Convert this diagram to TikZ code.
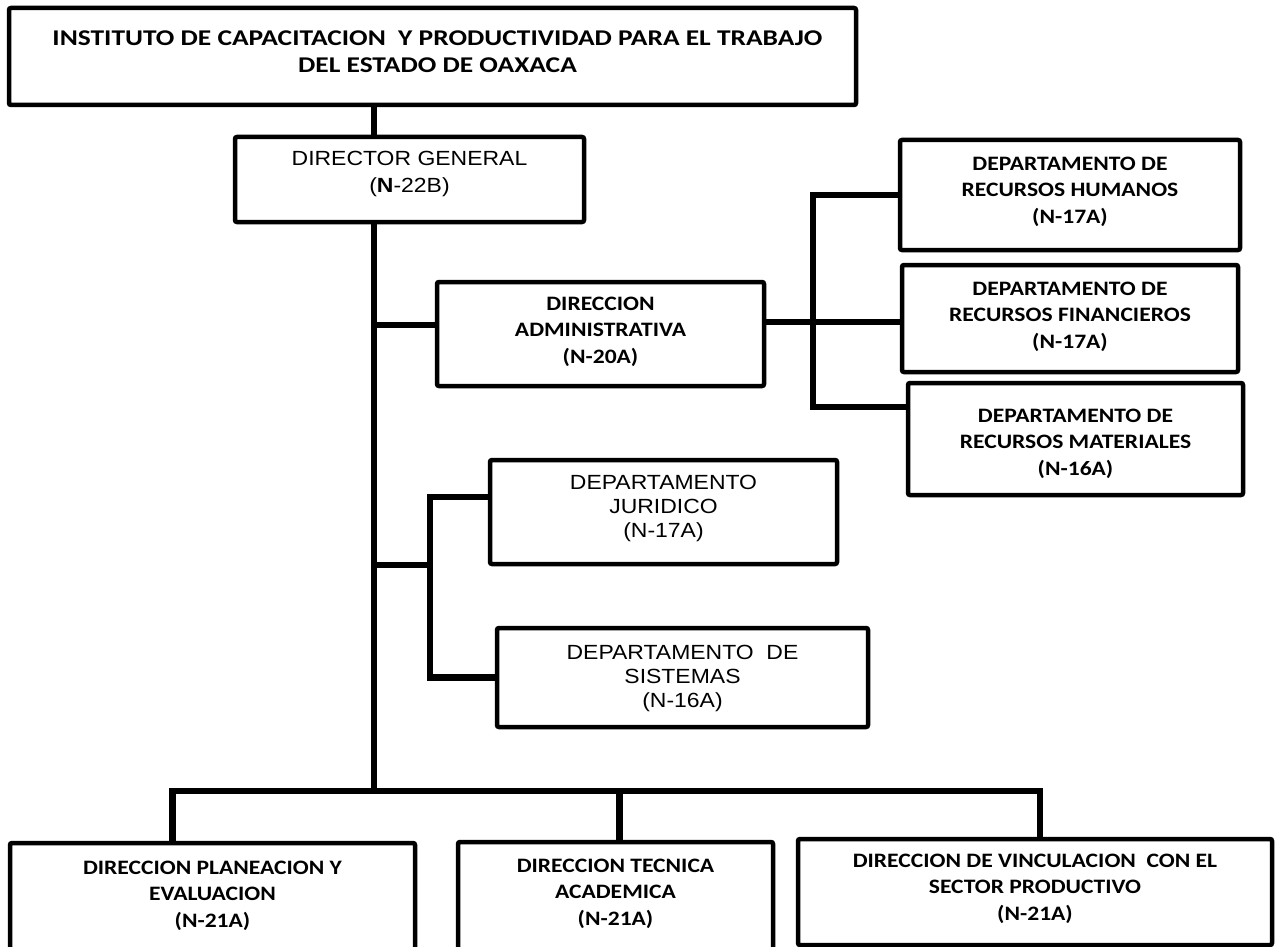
\documentclass[tikz,border=0pt]{standalone}
\usepackage{fontspec}
\usetikzlibrary{fit,calc}
\newfontfamily\calibri[FakeStretch=1.15]{Carlito}
\newfontfamily\calibrit[FakeStretch=1.22]{Carlito}
\newfontfamily\arial[FakeStretch=1.12]{Liberation Sans}
\tikzset{
    % Define style for boxes
    marco/.style={
           rectangle,
           rounded corners=2pt,
           draw=black, line width=4.5pt,
           inner sep=0pt, outer sep=0pt},
    % Define styles for the text inside the boxes
    negrita/.style={
           font=\calibri\bfseries\fontsize{20.5}{26.5}\selectfont,
           align=center, inner sep=0pt, anchor=north},
    titulo/.style={
           negrita,
           font=\calibrit\bfseries\fontsize{22.5}{27}\selectfont},
    normal/.style={
           font=\arial\fontsize{20.5}{24}\selectfont,
           align=center, inner sep=0pt, anchor=north},
    % Define line style
    linea/.style={
           line width=6.5pt}
}
% box: text style, name, corners, drop of the text, text
\newcommand*{\caja}[5][negrita]{\node[marco, fit={#3}] (#2) {};
  \node[#1] (#2-t) at ([yshift=-#4]#2.north) {#5};}

\begin{document}
\begin{tikzpicture}[x=1pt,y=-1pt]
\useasboundingbox (0,0) rectangle (1275,947);
\clip (0,0) rectangle (1275,947);

% Boxes, from top to bottom
\caja[titulo, xshift=5pt]{inst}{(9,8) (856,105)}{22.8pt}{INSTITUTO DE CAPACITACION \ Y PRODUCTIVIDAD PARA EL TRABAJO\\DEL ESTADO DE OAXACA}
\caja[normal, font=\arial\fontsize{20.5}{27}\selectfont]{dg}{(235,137) (584,222)}{13.7pt}{DIRECTOR GENERAL\\(\textbf{N}-22B)}
\caja{da}{(437,282) (764,386)}{14.4pt}{DIRECCION\\ADMINISTRATIVA\\(N-20A)}
\caja{rh}{(900,140) (1240,250)}{16.4pt}{DEPARTAMENTO DE\\RECURSOS HUMANOS\\(N-17A)}
\caja{rf}{(902,265) (1238,372)}{16.4pt}{DEPARTAMENTO DE\\RECURSOS FINANCIEROS\\(N-17A)}
\caja{rm}{(908,383) (1243,495)}{25.4pt}{DEPARTAMENTO DE\\RECURSOS MATERIALES\\(N-16A)}
\caja[normal]{jur}{(490,460) (837,564)}{14.7pt}{DEPARTAMENTO\\JURIDICO\\(N-17A)}
\caja[normal]{sis}{(497,628) (868,727)}{16.7pt}{DEPARTAMENTO \ DE\\SISTEMAS\\(N-16A)}
\caja{dpe}{(10,843) (415,965)}{17.4pt}{DIRECCION PLANEACION Y\\EVALUACION\\(N-21A)}
\caja{dta}{(458,842) (773,965)}{16.4pt}{DIRECCION TECNICA\\ACADEMICA\\(N-21A)}
\caja{dvs}{(798,839) (1272,945)}{14.4pt}{DIRECCION DE VINCULACION \ CON EL\\SECTOR PRODUCTIVO\\(N-21A)}

% Points where the lines branch
\coordinate (eje) at (374,0);
\coordinate (ramaA) at (813,322);
\coordinate (ramaB) at (430,565);
\coordinate (bus) at (374,791);
\path ([yshift=9pt]da.west) coordinate (daW)
      ([yshift=12pt]da.east) coordinate (daE)
      ([yshift=15pt]jur.west) coordinate (jurW)
      ([yshift=32pt]rm.west) coordinate (rmW)
      ([xshift=-40pt]dpe.north) coordinate (dpeN)
      ([xshift=4pt]dta.north) coordinate (dtaN)
      ([xshift=5pt]dvs.north) coordinate (dvsN);

% Now connect the boxes
\draw[linea] (inst.south -| eje) -- (dg.north -| eje);
\draw[linea] (dg.south -| eje) -- (bus);
\draw[linea] (daW) -- (eje |- daW);
\draw[linea] (daE) -- (rf.west |- daE);
\draw[linea] (rh.west) -| (ramaA) |- (rmW);
\draw[linea] (eje |- ramaB) -- (ramaB);
\draw[linea] (jurW) -| (ramaB) |- (sis.west);
\draw[linea] (dpeN) |- (bus) -| (dvsN);
\draw[linea] (dtaN |- bus) -- (dtaN);
\end{tikzpicture}
\end{document}
